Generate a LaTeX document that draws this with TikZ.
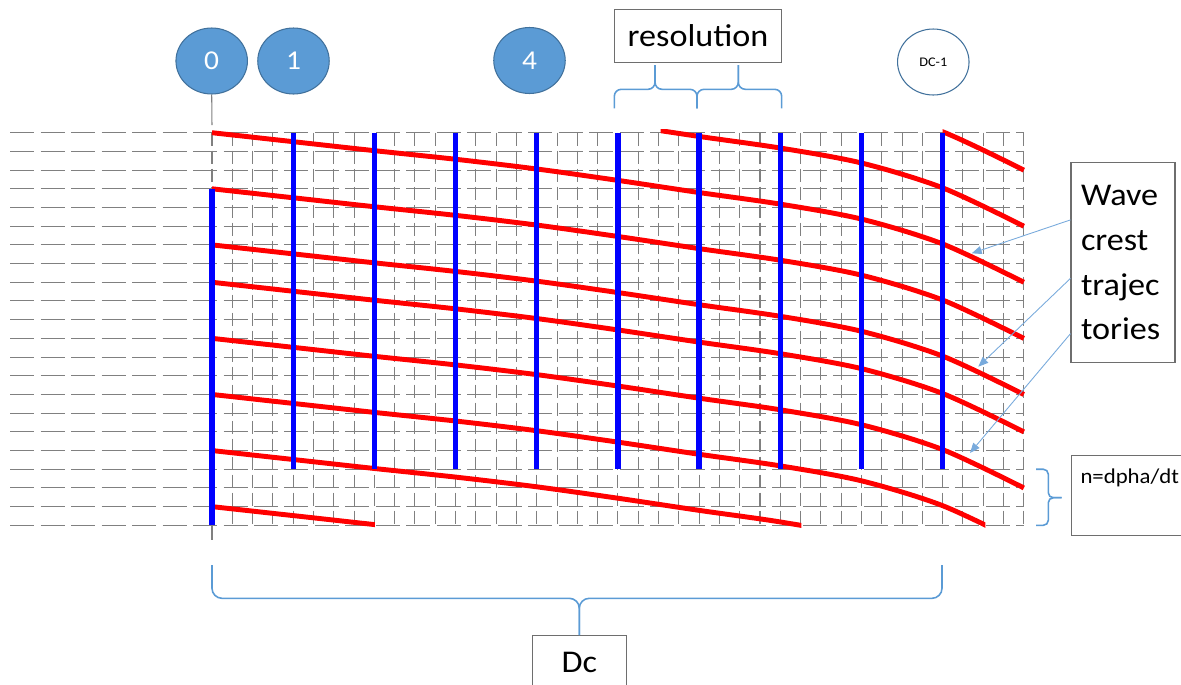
\documentclass[tikz,border=0pt]{standalone}
\usepackage{fontspec}
\setmainfont{Carlito}[FakeStretch=1.08]
\usetikzlibrary{arrows.meta,positioning,calc,shapes.geometric}
\definecolor{OffBlue}{RGB}{91,155,213}
\definecolor{OffEdge}{RGB}{65,113,156}
\definecolor{GridGray}{RGB}{128,128,128}
\definecolor{BoxEdge}{RGB}{110,110,110}
\definecolor{PtrBlue}{RGB}{120,170,220}
\tikzset{
  gridh/.style={draw=GridGray, line width=0.6pt, dash pattern=on 0.48cm off 0.13cm},
  gridv/.style={draw=GridGray, line width=0.6pt, dash pattern=on 0.26cm off 0.1cm},
  guide/.style={draw=GridGray, line width=0.6pt},
  marker/.style={
    ellipse, draw=OffEdge, fill=OffBlue, line width=0.6pt, inner sep=0pt,
    minimum width=1.43cm, minimum height=1.32cm,
    text=white, font=\fontsize{15.5}{16}\selectfont
  },
  lastmarker/.style={marker, fill=white, text=black, font=\fontsize{7.5}{8}\selectfont},
  ray/.style={draw=blue, line width=3pt},
  crest/.style={draw=red, line width=2.8pt},
  textbox/.style={draw=BoxEdge, line width=0.6pt, fill=white, inner sep=0pt,
    font=\fontsize{18}{25.4}\selectfont},
  brc/.style={draw=OffBlue, line width=0.9pt, rounded corners=0.14cm},
  ptr/.style={draw=PtrBlue, line width=0.5pt, -{Triangle[length=0.2cm,width=0.16cm]}},
}

\begin{document}
\begin{tikzpicture}[x=0.02cm,y=-0.02cm]
\useasboundingbox (0,0) rectangle (1181,684);

% ---- Phase markers ----
\node[marker] (p0) at (211.7,61) {0};
\node[marker] (p1) at (293.5,61) {1};
\node[marker] (p4) at (529.5,60.5) {4};
\node[lastmarker] (pdc) at (933.3,62) {DC-1};

% ---- Grid, rays and crests ----
\begin{scope}[shift={(212,132.7)},x=0.406cm,y=-0.374cm]
  \foreach \k in {0,...,21}
    \draw[gridh] (-9.95,\k) -- (40,\k);
  \foreach \i in {0,...,40}
    \draw[gridv] (\i,0) -- (\i,21);
  \coordinate (top0) at (0,-0.4);
  \coordinate (end0) at (0,21);
  \coordinate (bot0) at (0,21.8);
  % offset / first column / last column of each crest
  \foreach \c/\s/\e in {0/-0.5/40.5,3/-0.5/40.5,6/-0.5/40.5,8/-0.5/40.5,11/-0.5/40.5,
      14/-0.5/38.1,17/-0.5/29.04,20/-0.5/8.03,-3/22.1/40.5,-6/36/40.5}{
    \begin{scope}
      \clip (\s,-0.15) rectangle (\e,21.2);
      \draw[crest,shift={(0,\c)}] plot[smooth] coordinates
        {(0,0) (4,0.48) (8,0.96) (12,1.42) (16,1.94) (20,2.55)
         (24,3.2) (28,3.82) (32,4.62) (36,5.95) (40,8)};
    \end{scope}
  }
  \draw[ray] (0,3) -- (0,21);
  \foreach \i in {4,8,...,36}
    \draw[ray] (\i,0) -- (\i,18);
  \coordinate (n1) at (40.6,18);
  \coordinate (n2) at (40.6,21);
\end{scope}
\draw[guide] (p0.south) -- (top0);
\draw[guide] (end0) -- (bot0);

% ---- Resolution ----
\node[textbox, minimum width=3.35cm, minimum height=1.07cm] (res) at (698,36) {resolution};
\coordinate (r1) at (614.3,108.3);
\coordinate (r2) at (697,108.3);
\coordinate (r3) at (781.7,108.3);
\coordinate (rt1) at (655,65);
\coordinate (rt2) at (738.3,65);
\draw[brc] (r1) |- (655,89.3) -- (rt1);
\draw[brc] (r2) |- (655,89.3) -- (rt1);
\draw[brc] (r2) |- (738.3,89.3) -- (rt2);
\draw[brc] (r3) |- (738.3,89.3) -- (rt2);

% ---- Wave crest label ----
\node[textbox, text width=1.68cm, align=left, inner xsep=0.2cm, minimum height=4cm]
  (wave) at (1123,262.7) {Wave\\crest\\trajec\\tories};
\coordinate (a1) at (971.7,253.3);
\coordinate (a2) at (978.3,366.7);
\coordinate (a3) at (970,453);
\draw[ptr] ($(wave.north west)!0.287!(wave.south west)$) -- (a1);
\draw[ptr] ($(wave.north west)!0.578!(wave.south west)$) -- (a2);
\draw[ptr] ($(wave.north west)!0.853!(wave.south west)$) -- (a3);

% ---- Rate label ----
\node[textbox, anchor=north west, font=\fontsize{12}{14}\selectfont, text width=2cm,
  align=left, inner xsep=0.18cm, inner ysep=0.26cm, text height=8.5pt, text depth=0.78cm]
  (rate) at (1071,455) {n=dpha/dt};
\draw[brc, rounded corners=0.1cm] (n1) -| (1048.3,497.7) -- (1061.7,497.7);
\draw[brc, rounded corners=0.1cm] (n2) -| (1048.3,497.7) -- (1061.7,497.7);

% ---- Dc ----
\node[textbox, anchor=north, minimum width=1.87cm, inner ysep=0.334cm,
  text height=11.4pt, text depth=1cm] (dc) at (579.3,635) {Dc};
\coordinate (d1) at (212,565);
\coordinate (d2) at (942,565);
\coordinate (dmid) at (579.3,598.3);
\draw[brc, rounded corners=0.2cm] (d1) |- (dmid) -- (dc.north);
\draw[brc, rounded corners=0.2cm] (d2) |- (dmid) -- (dc.north);

\end{tikzpicture}
\end{document}
